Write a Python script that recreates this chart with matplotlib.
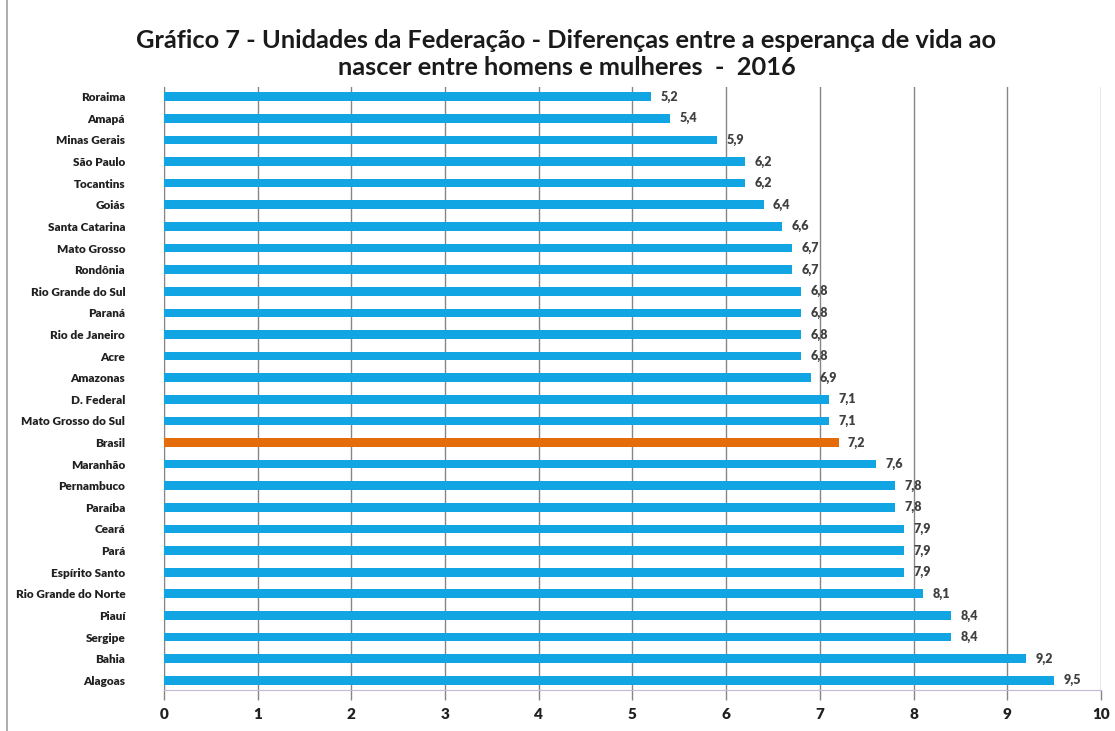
import matplotlib
matplotlib.use("Agg")
import matplotlib.pyplot as plt
from matplotlib.patches import Rectangle

categories = ["Roraima", "Amapá", "Minas Gerais", "São Paulo", "Tocantins", "Goiás",
              "Santa Catarina", "Mato Grosso", "Rondônia", "Rio Grande do Sul", "Paraná",
              "Rio de Janeiro", "Acre", "Amazonas", "D. Federal", "Mato Grosso do Sul",
              "Brasil", "Maranhão", "Pernambuco", "Paraíba", "Ceará", "Pará",
              "Espírito Santo", "Rio Grande do Norte", "Piauí", "Sergipe", "Bahia", "Alagoas"]
values = [5.2, 5.4, 5.9, 6.2, 6.2, 6.4, 6.6, 6.7, 6.7, 6.8, 6.8, 6.8, 6.8, 6.9, 7.1, 7.1,
          7.2, 7.6, 7.8, 7.8, 7.9, 7.9, 7.9, 8.1, 8.4, 8.4, 9.2, 9.5]
highlight = "Brasil"
xticks = list(range(0, 11))
title = "Gráfico 7 - Unidades da Federação - Diferenças entre a esperança de vida ao\nnascer entre homens e mulheres  -  2016"

plt.rcParams['font.family'] = ['Lato', 'DejaVu Sans']

fig = plt.figure(figsize=(11.15, 7.31), dpi=100)
ax = fig.add_axes([0.1471, 0.0561, 0.9874 - 0.1471, 0.881 - 0.0561])

n = len(categories)
ypos = [n - 1 - i for i in range(n)]
colors = ['#E46C0A' if c == highlight else '#12A5E3' for c in categories]
ax.barh(ypos, values, height=0.4, color=colors, zorder=3)

for y, v in zip(ypos, values):
    ax.text(v + 0.1, y, f"{v:.1f}".replace('.', ','), va='center', ha='left',
            fontsize=9, fontweight='heavy', color='#404040', zorder=4)

ax.set_xlim(0, 10)
ax.set_ylim(-0.45, n - 0.55)
ax.set_xticks(xticks)
ax.set_xticklabels([str(t) for t in xticks], fontsize=11, fontweight='heavy', color='#202020')
ax.set_yticks(ypos)
ax.set_yticklabels(categories, fontsize=8.5, fontweight='heavy', color='#202020')
ax.tick_params(axis='y', length=0, pad=28)
ax.tick_params(axis='x', length=7, width=1, color='#868686', pad=6)
ax.grid(axis='x', color='#868686', linewidth=1, zorder=0)
for s in ['top', 'right']:
    ax.spines[s].set_visible(False)
ax.spines['left'].set_color('#868686')
ax.spines['bottom'].set_color('#C8B8D8')

fig.text(0.508, 0.96, title, ha='center', va='top', fontsize=18.3, fontweight='bold',
         color='#1a1a1a', linespacing=1.2)

fig.patches.append(Rectangle((0.0063, -0.01), 1.2, 1.2, transform=fig.transFigure,
                             fill=False, edgecolor='#A0A0A0', linewidth=1.2))

fig.savefig("out.png", dpi=100, facecolor='white')
